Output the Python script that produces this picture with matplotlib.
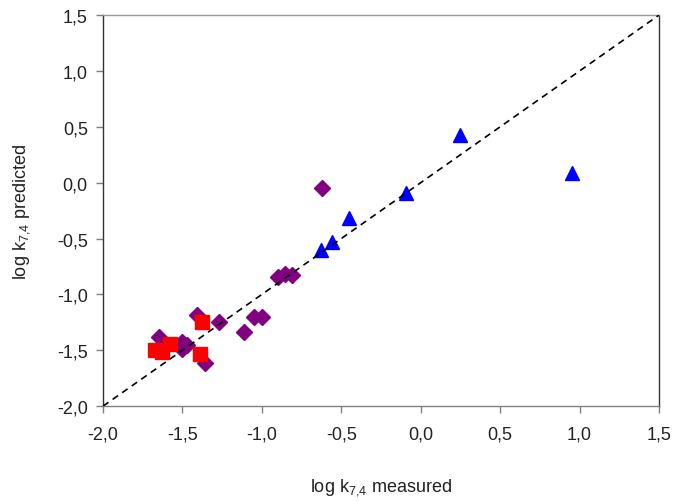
import matplotlib
matplotlib.use("Agg")
import matplotlib.pyplot as plt
from matplotlib.ticker import FuncFormatter, MultipleLocator

plt.rcParams['font.family'] = ['Liberation Sans', 'DejaVu Sans']

# Blue triangles
tri_x = [0.95, 0.25, -0.09, -0.45, -0.56, -0.63]
tri_y = [0.09, 0.43, -0.09, -0.32, -0.53, -0.60]

# Purple diamonds
dia_x = [-0.62, -0.90, -0.855, -0.81, -1.41, -1.27, -1.11, -1.05, -1.00,
         -1.65, -1.50, -1.47, -1.50, -1.36]
dia_y = [-0.05, -0.84, -0.82, -0.83, -1.18, -1.25, -1.335, -1.205, -1.20,
         -1.38, -1.43, -1.45, -1.49, -1.615]

# Red squares
sq_x = [-1.375, -1.58, -1.67, -1.63, -1.39]
sq_y = [-1.25, -1.44, -1.50, -1.515, -1.535]

# 1:1 line
line_x = [-2.0, 1.5]
line_y = [-2.0, 1.5]

fig = plt.figure(figsize=(6.78, 5.02), dpi=100)
ax = fig.add_axes([0.152, 0.189, 0.820, 0.779])

ax.plot(dia_x, dia_y, linestyle='none', marker='D', markersize=8,
        color='#800080', markeredgecolor='#800080', zorder=3)
ax.plot(sq_x, sq_y, linestyle='none', marker='s', markersize=9.5,
        color='#FF0000', markeredgecolor='#FF0000', zorder=4)
ax.plot(tri_x, tri_y, linestyle='none', marker='^', markersize=10.5,
        color='#0000FF', markeredgecolor='#0000FF', zorder=5)
ax.plot(line_x, line_y, color='black', linestyle=(0, (4, 3)), linewidth=1.2, zorder=6)

ax.set_xlim(-2.0, 1.5)
ax.set_ylim(-2.0, 1.5)
ax.xaxis.set_major_locator(MultipleLocator(0.5))
ax.yaxis.set_major_locator(MultipleLocator(0.5))
fmt = FuncFormatter(lambda v, p: f"{v:.1f}".replace('.', ',').replace('-0,0', '0,0'))
ax.xaxis.set_major_formatter(fmt)
ax.yaxis.set_major_formatter(fmt)

ax.tick_params(axis='both', direction='out', length=5, width=1, color='#808080',
               labelsize=13, labelcolor='#222222')
ax.tick_params(axis='x', pad=9)
ax.tick_params(axis='y', pad=6)

ax.spines['left'].set_color('#333333')
ax.spines['bottom'].set_color('#808080')
ax.spines['top'].set_color('#999999')
ax.spines['right'].set_color('#333333')
for s in ax.spines.values():
    s.set_linewidth(1.0)

ax.set_xlabel(r"log k$_\mathregular{7{,}4}$ measured", fontsize=13, labelpad=24, color='#222222')
ax.set_ylabel(r"log k$_\mathregular{7{,}4}$ predicted", fontsize=13, labelpad=18, color='#222222')

fig.savefig("out.png", dpi=100)
